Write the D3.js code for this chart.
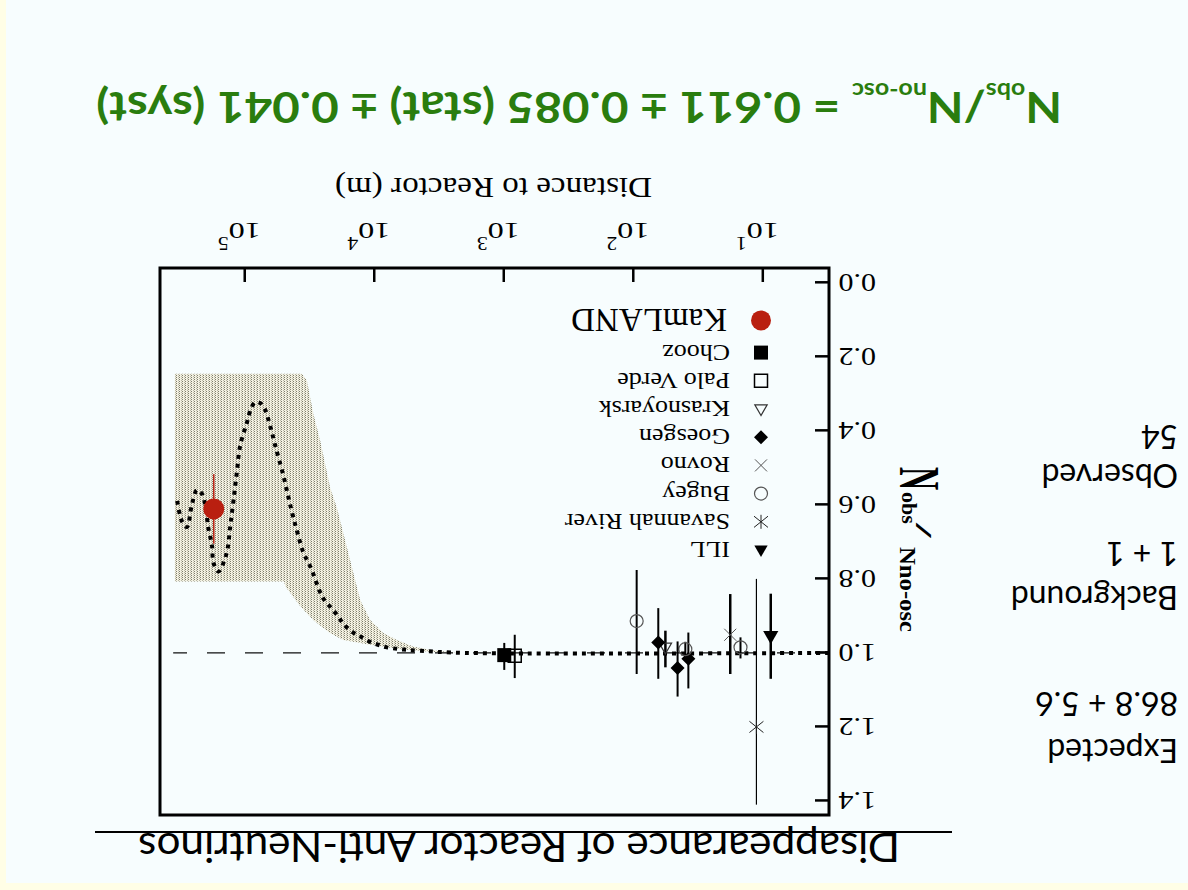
<!DOCTYPE html>
<html>
<head>
<meta charset="utf-8">
<script src="https://cdn.jsdelivr.net/npm/d3@7"></script>
<style>
  html, body { margin: 0; padding: 0; background: #f7fdfe; }
  svg { display: block; }
</style>
</head>
<body>
<svg id="chart" width="1188" height="890"></svg>
<script>
// ---- Reactor neutrino experiments: distance (m), observed / expected ratio, error bar extents ----
const experiments = ["ILL", "Savannah River", "Bugey", "Rovno", "Goesgen", "Krasnoyarsk", "Palo Verde", "Chooz", "KamLAND"];
const pointExperiment = ["ILL", "Savannah River", "Rovno", "Bugey", "Goesgen", "Bugey", "Goesgen", "Krasnoyarsk", "Goesgen", "Bugey", "Palo Verde", "Chooz", "KamLAND"];
const pointDistance = [8.76, 11.3, 18, 15, 37.9, 40, 45.9, 57, 64.7, 95, 830, 1000, 175000];
const pointRatio    = [0.955, 1.20, 0.951, 0.985, 1.016, 0.990, 1.041, 0.985, 0.972, 0.914, 1.008, 1.006, 0.611];
const errMinus      = [0.115, 0.40, 0.110, 0.027, 0.071, 0.020, 0.072, 0.045, 0.093, 0.138, 0.057, 0.033, 0.094];
const errPlus       = [0.115, 0.21, 0.106, 0.030, 0.080, 0.020, 0.077, 0.054, 0.098, 0.143, 0.060, 0.040, 0.094];

// ---- Typical LMA oscillation prediction (dotted curve) ----
const curveDistance = [3.11, 2000, 4610, 6350, 8070, 9440, 11070, 12970, 14660, 17220, 19320, 21730, 24550, 26550,
  31120, 35480, 39900, 44980, 50580, 58610, 64120, 70150, 76740, 83750, 90160, 97050, 109400, 115900, 123000,
  130600, 137100, 147200, 160700, 175800, 180700, 193200, 203700, 215800, 236000, 258200, 281800, 302000, 317700, 336500];
const curveRatio = [1.0, 1.0, 0.994, 0.99, 0.985, 0.978, 0.969, 0.955, 0.945, 0.924, 0.90, 0.878, 0.857, 0.834,
  0.77, 0.73, 0.67, 0.60, 0.523, 0.44, 0.388, 0.343, 0.325, 0.323, 0.34, 0.378, 0.44, 0.51, 0.586,
  0.659, 0.72, 0.757, 0.78, 0.757, 0.71, 0.66, 0.60, 0.57, 0.56, 0.60, 0.66, 0.65, 0.63, 0.586];

// ---- Shaded band of flux predictions (lower and upper edges) ----
const bandLowDistance = [2190, 3720, 5050, 6750, 8590, 10840, 12940, 15450, 17910, 19590, 22080, 24100, 26360, 29720, 33420, 36480, 350000];
const bandLowRatio    = [1.0, 0.992, 0.983, 0.965, 0.946, 0.911, 0.857, 0.751, 0.662, 0.608, 0.554, 0.491, 0.427, 0.355, 0.264, 0.246, 0.246];
const bandHighDistance = [2190, 3720, 6310, 10840, 17500, 22080, 29850, 37580, 49090, 50120, 350000];
const bandHighRatio    = [1.0, 0.997, 0.99, 0.978, 0.965, 0.947, 0.911, 0.874, 0.82, 0.807, 0.807];

// ---- Axes ----
const yTicks = [0.0, 0.2, 0.4, 0.6, 0.8, 1.0, 1.2, 1.4];
const yTickLabels = ["0.0", "0.2", "0.4", "0.6", "0.8", "1.0", "1.2", "1.4"];
const xTicks = [10, 100, 1000, 10000, 100000];
const noOscRatio = 1.0;

// ---- Event summary and measured ratio ----
const summaryHeads  = ["Expected", "Background", "Observed"];
const summaryValues = ["86.8 + 5.6", "1 + 1", "54"];
const ratioValue = "0.611", statError = "0.085", systError = "0.041";

const W = 1188, H = 890;
const serif = "'Liberation Serif', 'Times New Roman', serif";
const sans = "Lato, 'DejaVu Sans', sans-serif";

const svg = d3.select("#chart");
const defs = svg.append("defs");
const pat = defs.append("pattern").attr("id", "stipple")
  .attr("width", 3).attr("height", 2).attr("patternUnits", "userSpaceOnUse");
pat.append("rect").attr("width", 3).attr("height", 2).attr("fill", "#f3f1e2");
pat.append("rect").attr("x", 0).attr("y", 0).attr("width", 1).attr("height", 1).attr("fill", "#7f7e6c");
pat.append("rect").attr("x", 1).attr("y", 1).attr("width", 1).attr("height", 1).attr("fill", "#b8b7a5");

// the slide is shown upside down
const root = svg.append("g").attr("transform", `rotate(180 ${W / 2} ${H / 2})`);

root.append("rect").attr("width", W).attr("height", H).attr("fill", "#f7fdfe");
root.append("rect").attr("width", W).attr("height", 7).attr("fill", "#fffee6");
root.append("rect").attr("x", W - 6).attr("width", 6).attr("height", H).attr("fill", "#fffee6");

function stext(parent, u, v, str, o) {
  return parent.append("text")
    .attr("transform", `translate(${u},${v}) scale(${o.sx || 1},${o.sy || 1})`)
    .attr("font-family", o.family || serif)
    .attr("font-size", o.size)
    .attr("font-weight", o.weight || "normal")
    .attr("text-anchor", o.anchor || "start")
    .attr("fill", o.fill || "#000")
    .text(str);
}
// stretch a text horizontally so that it spans a given width, starting at u
function fitWidth(sel, u, v, width) {
  const w = sel.node().getComputedTextLength();
  sel.attr("transform", `translate(${u},${v}) scale(${width / w},1)`);
}

// ---- Title ----
const title = root.append("text")
  .attr("font-family", sans).attr("font-size", 40)
  .text("Disappearance of Reactor Anti-Neutrinos");
fitWidth(title, 288, 57, 762);
root.append("line").attr("x1", 236).attr("x2", 1093).attr("y1", 58).attr("y2", 58)
  .attr("stroke", "#000").attr("stroke-width", 2);

// ---- Plot frame and scales ----
const plot = { left: 359, right: 1028, top: 75, bottom: 622 };
const x = d3.scaleLog().domain([3.11, 455000]).range([plot.left, plot.right]);
const y = d3.scaleLinear().domain([-0.04, 1.438]).range([plot.bottom, plot.top]);

// shaded band
const bandPts = bandLowDistance.map((d, i) => [x(d), y(bandLowRatio[i])])
  .concat(bandHighDistance.map((d, i) => [x(d), y(bandHighRatio[i])]).reverse());
root.append("path").attr("d", d3.line()(bandPts) + "Z").attr("fill", "url(#stipple)");

// no-oscillation reference line
root.append("line")
  .attr("x1", x(3.11)).attr("x2", x(360000))
  .attr("y1", y(noOscRatio)).attr("y2", y(noOscRatio))
  .attr("stroke", "#111").attr("stroke-width", 1.3)
  .attr("stroke-dasharray", "18,20").attr("stroke-dashoffset", 4);

// oscillation curve
const curveLine = d3.line().x(d => x(d[0])).y(d => y(d[1])).curve(d3.curveCatmullRom.alpha(0.5));
root.append("path")
  .attr("d", curveLine(curveDistance.map((d, i) => [d, curveRatio[i]])))
  .attr("fill", "none").attr("stroke", "#000").attr("stroke-width", 4)
  .attr("stroke-dasharray", "4,5");

// axes
const yAxis = root.append("g").attr("transform", `translate(${plot.left},0)`)
  .call(d3.axisLeft(y).tickValues(yTicks).tickSize(-14).tickSizeOuter(0).tickPadding(8)
    .tickFormat((d, i) => yTickLabels[i]));
yAxis.select(".domain").remove();
yAxis.selectAll(".tick line").attr("stroke", "#000").attr("stroke-width", 2.5);
yAxis.selectAll(".tick text")
  .attr("font-family", serif).attr("font-size", 25).attr("fill", "#000")
  .attr("transform", "scale(1.2,1)");

const xAxis = root.append("g").attr("transform", `translate(0,${plot.bottom})`)
  .call(d3.axisBottom(x).tickValues(xTicks).tickSize(-14).tickSizeOuter(0).tickFormat(""));
xAxis.select(".domain").remove();
xAxis.selectAll(".tick line").attr("stroke", "#000").attr("stroke-width", 2.5);
xAxis.selectAll(".tick").each(function (d) {
  const g = d3.select(this);
  stext(g, 0, 45, "10", { size: 23, sx: 1.4, anchor: "middle" });
  stext(g, 16, 31, String(Math.round(Math.log10(d))), { size: 18, sx: 1.2 });
});

root.append("rect")
  .attr("x", plot.left).attr("y", plot.top)
  .attr("width", plot.right - plot.left).attr("height", plot.bottom - plot.top)
  .attr("fill", "none").attr("stroke", "#000").attr("stroke-width", 3);

// axis titles
const xTitle = root.append("text")
  .attr("font-family", serif).attr("font-size", 30)
  .text("Distance to Reactor (m)");
fitWidth(xTitle, 536, 712, 317);

const yt = root.append("g");
yt.append("text").attr("transform", "translate(288,423) rotate(-90) scale(0.8,1.43)")
  .attr("font-family", serif).attr("font-size", 40).attr("font-weight", "bold").text("N");
yt.append("text").attr("transform", "translate(286,398) rotate(-90)")
  .attr("font-family", serif).attr("font-size", 22).attr("font-weight", "bold").text("obs");
yt.append("text").attr("transform", "translate(272,367) rotate(-90) scale(1.9,0.85)")
  .attr("font-family", serif).attr("font-size", 28).attr("font-weight", "bold").text("/");
yt.append("text").attr("transform", "translate(288,343) rotate(-90)")
  .attr("font-family", serif).attr("font-size", 24).attr("font-weight", "bold")
  .attr("textLength", 85).attr("lengthAdjust", "spacingAndGlyphs").text("Nno-osc");

// ---- Marker symbols ----
function symbolPath(type, s) {
  switch (type) {
    case "circle":   return d3.symbol(d3.symbolCircle, Math.PI * s * s)();
    case "square":   return `M${-s},${-s}H${s}V${s}H${-s}Z`;
    case "triangle": return `M0,${-s}L${s * 0.95},${s * 0.65}L${-s * 0.95},${s * 0.65}Z`;
    case "diamond":  return `M0,${-s}L${s},0L0,${s}L${-s},0Z`;
    case "times":    return `M${-s},${-s}L${s},${s}M${-s},${s}L${s},${-s}`;
    case "asterisk": return `M${-s},${-s * 0.8}L${s},${s * 0.8}M${-s},${s * 0.8}L${s},${-s * 0.8}M0,${-s}V${s}`;
  }
}
const markStyle = {
  "ILL":            { type: "triangle", s: 8,   fill: "#000", stroke: "none", sw: 0,   bar: 2.5, barColor: "#000" },
  "Savannah River": { type: "asterisk", s: 7,   fill: "none", stroke: "#222", sw: 1,   bar: 1.2, barColor: "#000" },
  "Bugey":          { type: "circle",   s: 6.5, fill: "none", stroke: "#555", sw: 1.2, bar: 2,   barColor: "#000" },
  "Rovno":          { type: "times",    s: 6,   fill: "none", stroke: "#555", sw: 1,   bar: 2.5, barColor: "#000" },
  "Goesgen":        { type: "diamond",  s: 7,   fill: "#000", stroke: "none", sw: 0,   bar: 2,   barColor: "#000" },
  "Krasnoyarsk":    { type: "triangle", s: 6.5, fill: "none", stroke: "#333", sw: 1.2, bar: 2.5, barColor: "#000" },
  "Palo Verde":     { type: "square",   s: 6.5, fill: "none", stroke: "#000", sw: 1.5, bar: 2,   barColor: "#000" },
  "Chooz":          { type: "square",   s: 7,   fill: "#000", stroke: "none", sw: 0,   bar: 2,   barColor: "#000" },
  "KamLAND":        { type: "circle",   s: 10.5, fill: "#b91f10", stroke: "none", sw: 0, bar: 1.5, barColor: "#c0281a" }
};

const pts = root.append("g");
pointExperiment.forEach((name, i) => {
  const st = markStyle[name];
  const px = x(pointDistance[i]), py = y(pointRatio[i]);
  pts.append("line")
    .attr("x1", px).attr("x2", px)
    .attr("y1", y(pointRatio[i] - errMinus[i])).attr("y2", y(pointRatio[i] + errPlus[i]))
    .attr("stroke", st.barColor).attr("stroke-width", st.bar);
  pts.append("path")
    .attr("transform", `translate(${px},${py})`)
    .attr("d", symbolPath(st.type, st.s))
    .attr("fill", st.fill).attr("stroke", st.stroke).attr("stroke-width", st.sw);
});

// ---- Legend ----
const leg = root.append("g");
experiments.forEach((name, i) => {
  const st = markStyle[name];
  const big = name === "KamLAND";
  const rowV = 340 + i * 28.2 + (big ? 4 : 0);
  leg.append("path")
    .attr("transform", `translate(427,${rowV})`)
    .attr("d", symbolPath(st.type, big ? 10 : Math.min(st.s, 7)))
    .attr("fill", st.fill).attr("stroke", st.stroke).attr("stroke-width", st.sw);
  if (big) stext(leg, 461, rowV + 11, name, { size: 33 });
  else stext(leg, 458, rowV + 8, name, { size: 23, sx: 1.13 });
});

// ---- Event summary ----
const sumG = root.append("g");
const headV = [151, 304, 426], valV = [198, 348, 465];
summaryHeads.forEach((t, i) => {
  stext(sumG, 10, headV[i], t, { family: sans, size: 32 });
  stext(sumG, 10, valV[i], summaryValues[i], { family: sans, size: 32 });
});

// ---- Measured ratio ----
const ft = root.append("text")
  .attr("font-family", sans).attr("font-size", 42).attr("font-weight", "bold")
  .attr("fill", "#2a7d0e");
ft.append("tspan").text("N");
ft.append("tspan").attr("font-size", 22).attr("dy", 9).text("obs");
ft.append("tspan").attr("dy", -9).text("/N");
ft.append("tspan").attr("font-size", 22).attr("dy", 9).text("no-osc");
ft.append("tspan").attr("dy", -9).text(`  = ${ratioValue} \u00b1 ${statError} (stat) \u00b1 ${systError} (syst)`);
fitWidth(ft, 126, 798, 966);
</script>
</body>
</html>
